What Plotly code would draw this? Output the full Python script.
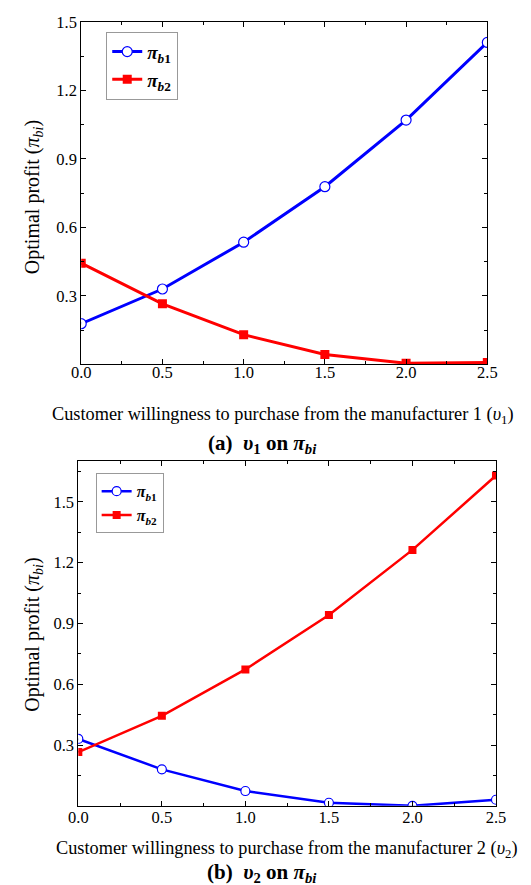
import plotly.graph_objects as go

# ---- data ----
x_vals = [0.0, 0.5, 1.0, 1.5, 2.0, 2.5]
x_ticktext = ["0.0", "0.5", "1.0", "1.5", "2.0", "2.5"]
y_tickvals = [0.3, 0.6, 0.9, 1.2, 1.5]
y_ticktext = ["0.3", "0.6", "0.9", "1.2", "1.5"]

a_pi_b1 = [0.178, 0.33, 0.535, 0.778, 1.07, 1.41]
a_pi_b2 = [0.443, 0.265, 0.13, 0.043, 0.005, 0.008]
b_pi_b1 = [0.33, 0.18, 0.073, 0.015, 0.0, 0.03]
b_pi_b2 = [0.265, 0.444, 0.673, 0.942, 1.263, 1.63]

name_b1 = "<b><i>π</i><sub><i>b</i>1</sub></b>"
name_b2 = "<b><i>π</i><sub><i>b</i>2</sub></b>"

FONT = "Liberation Serif"
BLUE = "#0000ff"
RED = "#ff0000"

fig = go.Figure()

# (a)
fig.add_trace(go.Scatter(x=x_vals, y=a_pi_b1, mode="lines+markers", name=name_b1,
                         line=dict(color=BLUE, width=3),
                         marker=dict(symbol="circle", size=10, color="white",
                                     line=dict(color=BLUE, width=1.2)),
                         xaxis="x", yaxis="y", legend="legend"))
fig.add_trace(go.Scatter(x=x_vals, y=a_pi_b2, mode="lines+markers", name=name_b2,
                         line=dict(color=RED, width=3),
                         marker=dict(symbol="square", size=9, color=RED),
                         xaxis="x", yaxis="y", legend="legend"))
# (b)
fig.add_trace(go.Scatter(x=x_vals, y=b_pi_b1, mode="lines+markers", name=name_b1,
                         line=dict(color=BLUE, width=2.5),
                         marker=dict(symbol="circle", size=9, color="white",
                                     line=dict(color=BLUE, width=1.2)),
                         xaxis="x2", yaxis="y2", legend="legend2"))
fig.add_trace(go.Scatter(x=x_vals, y=b_pi_b2, mode="lines+markers", name=name_b2,
                         line=dict(color=RED, width=2.5),
                         marker=dict(symbol="square", size=8, color=RED),
                         xaxis="x2", yaxis="y2", legend="legend2"))

W, H = 531, 885

def px_x(p):
    return p / W

def px_y(p):
    return 1 - p / H

common_axis = dict(showline=True, linecolor="black", linewidth=1, mirror="ticks",
                   ticks="inside", ticklen=5, tickcolor="black", showgrid=False,
                   zeroline=False, tickfont=dict(family=FONT, size=16.5, color="black"))

xminor = [0.25, 0.75, 1.25, 1.75, 2.25]

fig.update_layout(
    width=W, height=H,
    margin=dict(l=0, r=0, t=0, b=0),
    paper_bgcolor="white", plot_bgcolor="white",
    font=dict(family=FONT, color="black"),
    xaxis=dict(domain=[px_x(74), px_x(496)], range=[0, 2.5], anchor="y",
               tickmode="array", tickvals=x_vals, ticktext=x_ticktext,
               ticklabelstandoff=-7,
               minor=dict(tickmode="array", tickvals=xminor, ticks="inside", ticklen=3,
                          tickcolor="black"),
               **common_axis),
    yaxis=dict(domain=[px_y(359), px_y(13)], range=[0, 1.5], anchor="x",
               tickmode="array", tickvals=y_tickvals, ticktext=y_ticktext,
               minor=dict(tickmode="array", tickvals=[0.15, 0.45, 0.75, 1.05, 1.35],
                          ticks="inside", ticklen=3, tickcolor="black"),
               **common_axis),
    xaxis2=dict(domain=[px_x(71), px_x(505)], range=[0, 2.5], anchor="y2",
                tickmode="array", tickvals=x_vals, ticktext=x_ticktext,
                ticklabelstandoff=-4,
                minor=dict(tickmode="array", tickvals=xminor, ticks="inside", ticklen=3,
                           tickcolor="black"),
                **common_axis),
    yaxis2=dict(domain=[px_y(805), px_y(457)], range=[0, 1.7], anchor="x2",
                tickmode="array", tickvals=y_tickvals, ticktext=y_ticktext,
                minor=dict(tickmode="array", tickvals=[0.15, 0.45, 0.75, 1.05, 1.35, 1.65],
                           ticks="inside", ticklen=3, tickcolor="black"),
                **common_axis),
    legend=dict(x=px_x(100), y=px_y(23), xanchor="left", yanchor="top",
                bordercolor="#999999", borderwidth=1, bgcolor="white",
                font=dict(family=FONT, size=19, color="black"),
                traceorder="normal"),
    legend2=dict(x=px_x(89), y=px_y(469), xanchor="left", yanchor="top",
                 bordercolor="#999999", borderwidth=1, bgcolor="white",
                 font=dict(family=FONT, size=16, color="black"),
                 traceorder="normal"),
)

title_font = dict(family=FONT, size=18.3, color="black")
ytitle_font = dict(family=FONT, size=20, color="black")
cap_font = dict(family=FONT, size=21, color="black")
annotations = [
    dict(text="Optimal profit (<i>π<sub>bi</sub></i>)", x=px_x(24), y=px_y(190),
         textangle=-90, font=ytitle_font),
    dict(text="Customer willingness to purchase from the manufacturer 1 (<i>υ</i><sub>1</sub>)",
         x=px_x(284), y=px_y(411), font=title_font),
    dict(text="<b>(a)  <i>υ</i><sub>1</sub> on <i>π</i><sub><i>bi</i></sub></b>",
         x=px_x(262), y=px_y(439), font=cap_font),
    dict(text="Optimal profit (<i>π<sub>bi</sub></i>)", x=px_x(24), y=px_y(632),
         textangle=-90, font=ytitle_font),
    dict(text="Customer willingness to purchase from the manufacturer 2 (<i>υ</i><sub>2</sub>)",
         x=px_x(288), y=px_y(849), font=title_font),
    dict(text="<b>(b)  <i>υ</i><sub>2</sub> on <i>π</i><sub><i>bi</i></sub></b>",
         x=px_x(262), y=px_y(873), font=cap_font),
]
for a in annotations:
    a.update(xref="paper", yref="paper", showarrow=False, xanchor="center", yanchor="middle")
fig.update_layout(annotations=annotations)

fig.write_html("out.html")
